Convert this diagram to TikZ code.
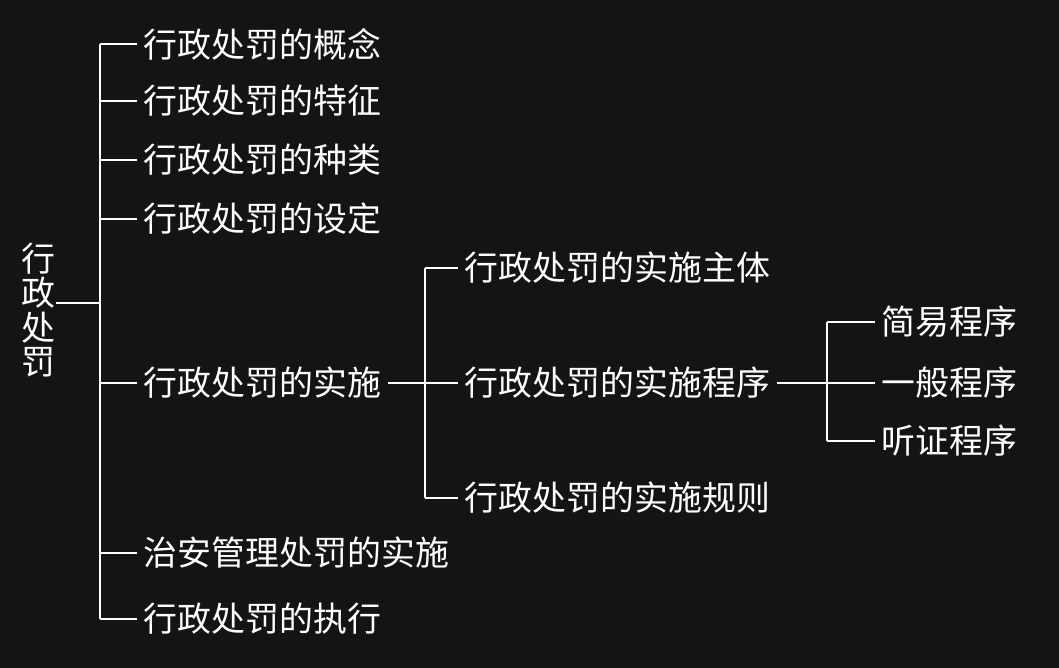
\documentclass[tikz,border=0pt]{standalone}
\usepackage{fontspec}
\newfontfamily\cjk{Noto Sans CJK SC}
\definecolor{bgdark}{HTML}{141414}

\begin{document}
\begin{tikzpicture}[x=0.02cm, y=-0.02cm, line width=1.1pt, white,
  item/.style={anchor=west, inner xsep=0.12cm, inner ysep=0pt, text=white,
    font=\cjk\fontsize{19.3}{23}\selectfont}]
  \fill[bgdark] (0,0) rectangle (1059,668);

  % root, set vertically
  \node[text=white, align=center, inner sep=0pt,
    font=\cjk\fontsize{19.3}{19.4}\selectfont] (root) at (38,310) {行\\政\\处\\罚};

  % first level
  \coordinate (t1a) at (100,44);
  \coordinate (t1b) at (100,619);
  \node[item] (concept) at (137,44)  {行政处罚的概念};
  \node[item] (feature) at (137,101) {行政处罚的特征};
  \node[item] (kind)    at (137,160) {行政处罚的种类};
  \node[item] (setup)   at (137,219) {行政处罚的设定};
  \node[item] (impl)    at (137,383) {行政处罚的实施};
  \node[item] (police)  at (137,553) {治安管理处罚的实施};
  \node[item] (exec)    at (137,619) {行政处罚的执行};

  \draw ([yshift=0.14cm]root.east) -- ([yshift=0.14cm]root.east -| t1a);
  \draw (t1a) -- (t1b);
  \foreach \n in {concept,feature,kind,setup,impl,police,exec}
    \draw (\n.west) -- (\n.west -| t1a);

  % second level
  \coordinate (t2a) at (425,268);
  \coordinate (t2b) at (425,498);
  \node[item] (subject) at (458,268) {行政处罚的实施主体};
  \node[item] (proc)    at (458,383) {行政处罚的实施程序};
  \node[item] (rule)    at (458,498) {行政处罚的实施规则};

  \draw (impl.east) -- (impl.east -| t2a);
  \draw (t2a) -- (t2b);
  \foreach \n in {subject,proc,rule}
    \draw (\n.west) -- (\n.west -| t2a);

  % third level
  \coordinate (t3a) at (827,322);
  \coordinate (t3b) at (827,441);
  \node[item] (simple)  at (875,322) {简易程序};
  \node[item] (general) at (875,383) {一般程序};
  \node[item] (hearing) at (875,441) {听证程序};

  \draw (proc.east) -- (proc.east -| t3a);
  \draw (t3a) -- (t3b);
  \foreach \n in {simple,general,hearing}
    \draw (\n.west) -- (\n.west -| t3a);
\end{tikzpicture}
\end{document}
